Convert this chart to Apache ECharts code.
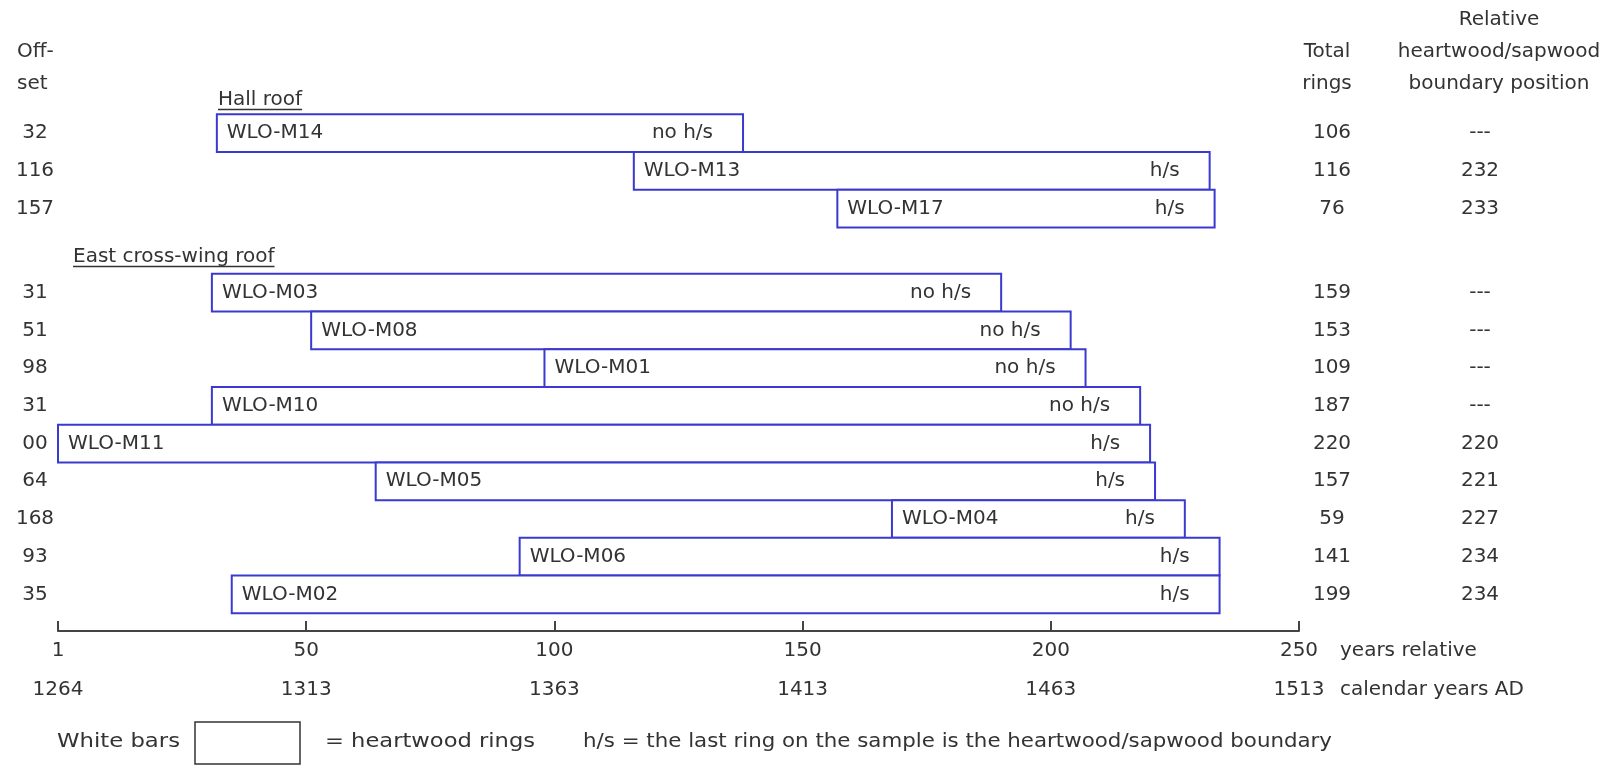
<!DOCTYPE html>
<html>
<head>
<meta charset="utf-8">
<script src="https://cdn.jsdelivr.net/npm/echarts@6/dist/echarts.min.js"></script>
<style>
html,body{margin:0;padding:0;background:#fff;}
#chart{width:1611px;height:766px;}
</style>
</head>
<body>
<div id="chart"></div>
<script>
// ---- data ----
const groups = ['Hall roof', 'East cross-wing roof'];
const samples = ['WLO-M14','WLO-M13','WLO-M17','WLO-M03','WLO-M08','WLO-M01','WLO-M10','WLO-M11','WLO-M05','WLO-M04','WLO-M06','WLO-M02'];
const sampleGroup = [0,0,0,1,1,1,1,1,1,1,1,1];
const offsets = [32,116,157,31,51,98,31,0,64,168,93,35];
const totalRings = [106,116,76,159,153,109,187,220,157,59,141,199];
const boundaryPos = [null,232,233,null,null,null,null,220,221,227,234,234];
const firstCalendarYear = 1264;

// ---- layout / style ----
const FONT = '20px "DejaVu Sans"';
const TXT = '#333333';
const BLUE = '#3a3ad0';
const GROUP_GAP = 1.23;

const rowPos = samples.map((s, i) => i + (sampleGroup[i] === 1 ? GROUP_GAP : 0));
const seriesData = samples.map((s, i) => [offsets[i], offsets[i] + totalRings[i], rowPos[i], i]);

function relLabel(v) { return v === 0 ? 1 : v; }

const measCtx = document.createElement('canvas').getContext('2d');
function measure(text, font) {
  measCtx.font = font;
  return measCtx.measureText(text).width;
}

function gText(text, x, y, align, targetWidth) {
  const el = { type: 'text', x: x, y: y, style: { text: text, font: FONT, fill: TXT, textAlign: align, textVerticalAlign: 'middle', align: align, verticalAlign: 'middle' } };
  if (targetWidth) el.scaleX = targetWidth / measure(text, FONT);
  return el;
}

const chart = echarts.init(document.getElementById('chart'), null, { renderer: 'canvas' });

const headings = [
  { text: groups[0], x: 218, y: 100 },
  { text: groups[1], x: 73, y: 257 }
];

const graphics = [];
headings.forEach(h => {
  graphics.push(gText(h.text, h.x, h.y, 'left'));
  const w = measure(h.text, FONT);
  graphics.push({ type: 'line', shape: { x1: h.x, y1: h.y + 9.5, x2: h.x + w, y2: h.y + 9.5 }, style: { stroke: TXT, lineWidth: 1.5 } });
});
[
  ['Off-', 17, 52, 'left'], ['set', 17, 84, 'left'],
  ['Total', 1327, 52, 'center'], ['rings', 1327, 84, 'center'],
  ['Relative', 1499, 20, 'center'], ['heartwood/sapwood', 1499, 52, 'center'], ['boundary position', 1499, 84, 'center'],
  ['years relative', 1340, 651, 'left'], ['calendar years AD', 1340, 690, 'left']
].forEach(t => graphics.push(gText(t[0], t[1], t[2], t[3])));
graphics.push(gText('White bars', 57, 742, 'left', 123));
graphics.push(gText('= heartwood rings', 325, 742, 'left', 210));
graphics.push(gText('h/s = the last ring on the sample is the heartwood/sapwood boundary', 583, 742, 'left', 749));
graphics.push({ type: 'rect', shape: { x: 195, y: 722, width: 105, height: 42 }, style: { fill: '#fff', stroke: '#333', lineWidth: 1.5 } });

function textEl(text, x, y, align) {
  return { type: 'text', style: { text: String(text), x: x, y: y, font: FONT, fill: TXT, textAlign: align, textVerticalAlign: 'middle', align: align, verticalAlign: 'middle' } };
}

chart.setOption({
  animation: false,
  backgroundColor: '#ffffff',
  grid: { left: 58, right: 312, top: 20, bottom: 135, containLabel: false },
  xAxis: {
    type: 'value', min: 0, max: 250, interval: 50,
    axisLine: { show: true, onZero: false, lineStyle: { color: '#444', width: 2 } },
    axisTick: { show: true, inside: true, length: 10, lineStyle: { color: '#444', width: 2 } },
    splitLine: { show: false },
    axisLabel: {
      margin: 0, lineHeight: 39, color: TXT, fontSize: 20, fontFamily: 'DejaVu Sans',
      formatter: v => relLabel(v) + '\n' + (firstCalendarYear - 1 + relLabel(v))
    }
  },
  yAxis: { type: 'value', inverse: true, min: -3, max: 13.2, show: false },
  graphic: graphics,
  series: [{
    type: 'custom',
    clip: false,
    encode: { x: [0, 1], y: 2 },
    data: seriesData,
    renderItem: function (params, api) {
      const idx = api.value(3);
      const p0 = api.coord([api.value(0), api.value(2)]);
      const p1 = api.coord([api.value(1), api.value(2)]);
      const h = api.size([0, 1])[1];
      const y = p0[1];
      const b = boundaryPos[idx];
      const offLabel = String(offsets[idx]).padStart(2, '0');
      return {
        type: 'group',
        children: [
          { type: 'rect', shape: { x: p0[0], y: y - h / 2, width: p1[0] - p0[0], height: h }, style: { fill: '#ffffff', stroke: BLUE, lineWidth: 2 } },
          textEl(samples[idx], p0[0] + 10, y, 'left'),
          textEl(b == null ? 'no h/s' : 'h/s', p1[0] - 30, y, 'right'),
          textEl(offLabel, 35, y, 'center'),
          textEl(totalRings[idx], 1332, y, 'center'),
          textEl(b == null ? '---' : b, 1480, y, 'center')
        ]
      };
    }
  }]
});
</script>
</body>
</html>
